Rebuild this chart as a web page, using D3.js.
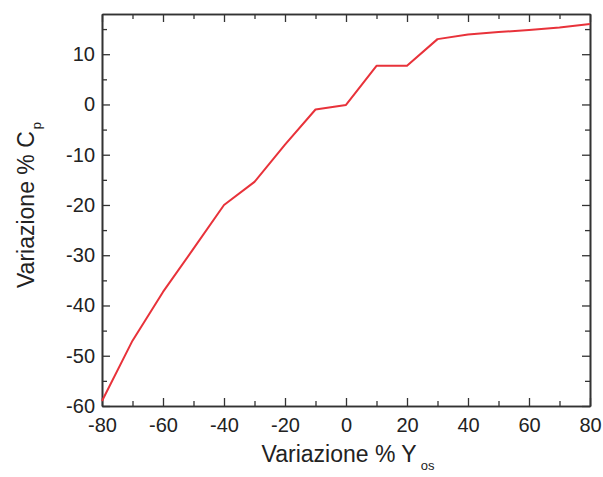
<!DOCTYPE html>
<html lang="it">
<head>
  <meta charset="UTF-8">
  <title>Variazione Cp</title>
  <script src="https://d3js.org/d3.v7.min.js"></script>
  <style>
    body { margin: 0; background: #fff; }
    text { font-family: "Liberation Sans", Arial, sans-serif; fill: #222; }
  </style>
</head>
<body>
<div id="chart"></div>
<script>
  let width = 603;
  let height = 477;

  // data
  let xValues = [-80, -70, -60, -50, -40, -30, -20, -10, 0, 10, 20, 30, 40, 50, 60, 70, 80];
  let cpValues = [-59, -47, -37.3, -28.7, -20, -15.4, -8, -1, -0.1, 7.7, 7.7, 13, 13.9, 14.4, 14.8, 15.3, 16];
  let xTicks = [-80, -60, -40, -20, 0, 20, 40, 60, 80];
  let yTicks = [-60, -50, -40, -30, -20, -10, 0, 10];

  let margin = { top: 14, right: 13, bottom: 71, left: 102 };

  let x = d3.scaleLinear().domain([-80, 80]).range([margin.left, width - margin.right]);
  let y = d3.scaleLinear().domain([-60, 18]).range([height - margin.bottom, margin.top]);

  let svg = d3.select("#chart").append("svg")
          .attr("width", width)
          .attr("height", height);

  function axis(gen, translate, values, size, labels) {
    let g = svg.append("g")
            .attr("transform", translate)
            .call(gen.tickValues(values).tickSize(size).tickSizeOuter(0)
                    .tickFormat(labels ? (d => String(d)) : ""));
    g.select(".domain").attr("stroke", "#333").attr("stroke-width", 1.6);
    g.selectAll(".tick line").attr("stroke", "#333").attr("stroke-width", 1.3);
    g.selectAll("text").style("font-size", "20px").attr("fill", "#222");
    return g;
  }

  let xMinor = d3.range(-70, 80, 20);
  let yMinor = d3.range(-55, 18, 10);
  let bottomY = height - margin.bottom;
  let rightX = width - margin.right;

  // bottom
  axis(d3.axisBottom(x), `translate(0,${bottomY})`, xTicks, -8, true)
          .selectAll("text").attr("y", 12);
  axis(d3.axisBottom(x), `translate(0,${bottomY})`, xMinor, -5, false);
  // top
  axis(d3.axisTop(x), `translate(0,${margin.top})`, xTicks, -8, false);
  axis(d3.axisTop(x), `translate(0,${margin.top})`, xMinor, -5, false);
  // left
  axis(d3.axisLeft(y), `translate(${margin.left},0)`, yTicks, -8, true)
          .selectAll("text").attr("x", -7);
  axis(d3.axisLeft(y), `translate(${margin.left},0)`, yMinor, -5, false);
  // right
  axis(d3.axisRight(y), `translate(${rightX},0)`, yTicks, -8, false);
  axis(d3.axisRight(y), `translate(${rightX},0)`, yMinor, -5, false);

  // data line
  let line = d3.line()
          .x((d, i) => x(xValues[i]))
          .y(d => y(d));

  svg.append("path")
          .datum(cpValues)
          .attr("fill", "none")
          .attr("stroke", "#e8323a")
          .attr("stroke-width", 2)
          .attr("stroke-linejoin", "round")
          .attr("d", line);

  // axis titles
  let xTitle = svg.append("text")
          .attr("x", 348)
          .attr("y", 462)
          .attr("text-anchor", "middle")
          .style("font-size", "23px");
  xTitle.append("tspan").text("Variazione % Y");
  xTitle.append("tspan").attr("dx", 4).attr("dy", 8).style("font-size", "13px").text("os");

  let yTitle = svg.append("text")
          .attr("transform", "translate(34,205) rotate(-90)")
          .attr("text-anchor", "middle")
          .style("font-size", "23px");
  yTitle.append("tspan").text("Variazione % C");
  yTitle.append("tspan").attr("dx", 2).attr("dy", 7).style("font-size", "13px").text("p");
</script>
</body>
</html>
